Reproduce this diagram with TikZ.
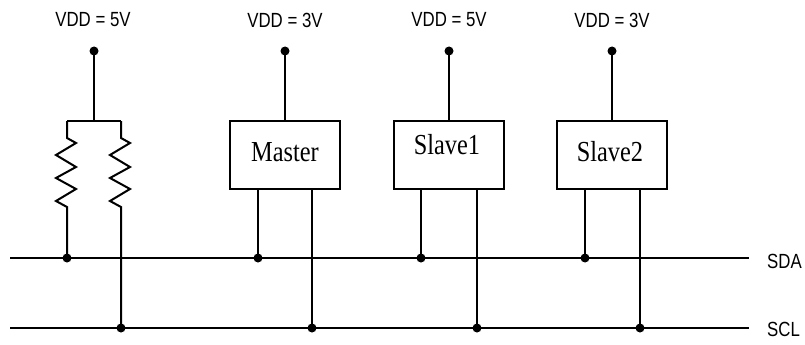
\documentclass[tikz,border=0pt]{standalone}
\usepackage{fontspec}
\setmainfont{Liberation Sans}
\newfontfamily\condsans[FakeStretch=0.82]{Liberation Sans}
\newfontfamily\boxfont[FakeStretch=0.84]{Liberation Serif}
\begin{document}
\begin{tikzpicture}[x=1pt,y=-1pt,
  wire/.style={line width=2pt},
  dot/.style={circle,fill,inner sep=0pt,minimum size=9pt},
  chip/.style={draw,line width=1.6pt,minimum width=110pt,minimum height=68pt,inner sep=0pt},
  chiptext/.style={inner sep=0pt,font=\boxfont\fontsize{29}{29}\selectfont},
  vdd/.style={inner sep=0pt,font=\condsans\fontsize{20.5}{20.5}\selectfont},
  bus/.style={inner sep=0pt,anchor=west,font=\condsans\fontsize{20.5}{20.5}\selectfont}]
\useasboundingbox (0,0) rectangle (805,345);

% bus lines
\coordinate (sdaL) at (10,258);
\coordinate (sdaR) at (749,258);
\coordinate (sclL) at (10,328);
\coordinate (sclR) at (749,328);
\draw[wire] (sdaL) -- (sdaR);
\draw[wire] (sclL) -- (sclR);
\node[bus] (sdalab) at (767,261) {SDA};
\node[bus] (scllab) at (767,329) {SCL};

% VDD labels and dots
\node[vdd] (v1) at (93,20) {VDD = 5V};
\node[vdd] (v2) at (285,20) {VDD = 3V};
\node[vdd] (v3) at (449,20) {VDD = 5V};
\node[vdd] (v4) at (612,20) {VDD = 3V};
\node[dot] (p1) at (94,51) {};
\node[dot] (p2) at (285,51) {};
\node[dot] (p3) at (449,51) {};
\node[dot] (p4) at (612,51) {};

% pull-up resistors
\coordinate (rtop) at (94,121);
\coordinate (rl) at (67,121);
\coordinate (rr) at (121,121);
\node[dot] (rsda) at (67,258) {};
\node[dot] (rscl) at (121,328) {};
\draw[wire] (p1.center) -- (rtop);
\draw[wire,line join=miter] (rl) -- (rr);
\draw[wire,line join=miter] (rl) -- ++(0,17) -- ++(9,5) -- ++(-20,12) -- ++(20,12) -- ++(-20,11)
   -- ++(20,11) -- ++(-20,12) -- ++(11,6) -- (rsda.center);
\draw[wire,line join=miter] (rr) -- ++(0,17) -- ++(9,5) -- ++(-20,12) -- ++(20,12) -- ++(-20,11)
   -- ++(20,11) -- ++(-20,12) -- ++(11,6) -- (rscl.center);

% devices
\node[chip] (m) at (285,155) {};
\node[chip] (s1) at (449,155) {};
\node[chip] (s2) at (612,155) {};
\node[chiptext] (mt) at (285,152) {Master};
\node[chiptext] (s1t) at (447,145) {Slave1};
\node[chiptext] (s2t) at (610,152) {Slave2};

\draw[wire] (p2.center) -- (m.north);
\draw[wire] (p3.center) -- (s1.north);
\draw[wire] (p4.center) -- (s2.north);

\node[dot] (ma) at (258,258) {};
\node[dot] (mb) at (312,328) {};
\node[dot] (s1a) at (421,258) {};
\node[dot] (s1b) at (477,328) {};
\node[dot] (s2a) at (585,258) {};
\node[dot] (s2b) at (640,328) {};

\draw[wire] (ma.center |- m.south) -- (ma.center);
\draw[wire] (mb.center |- m.south) -- (mb.center);
\draw[wire] (s1a.center |- s1.south) -- (s1a.center);
\draw[wire] (s1b.center |- s1.south) -- (s1b.center);
\draw[wire] (s2a.center |- s2.south) -- (s2a.center);
\draw[wire] (s2b.center |- s2.south) -- (s2b.center);
\end{tikzpicture}
\end{document}
